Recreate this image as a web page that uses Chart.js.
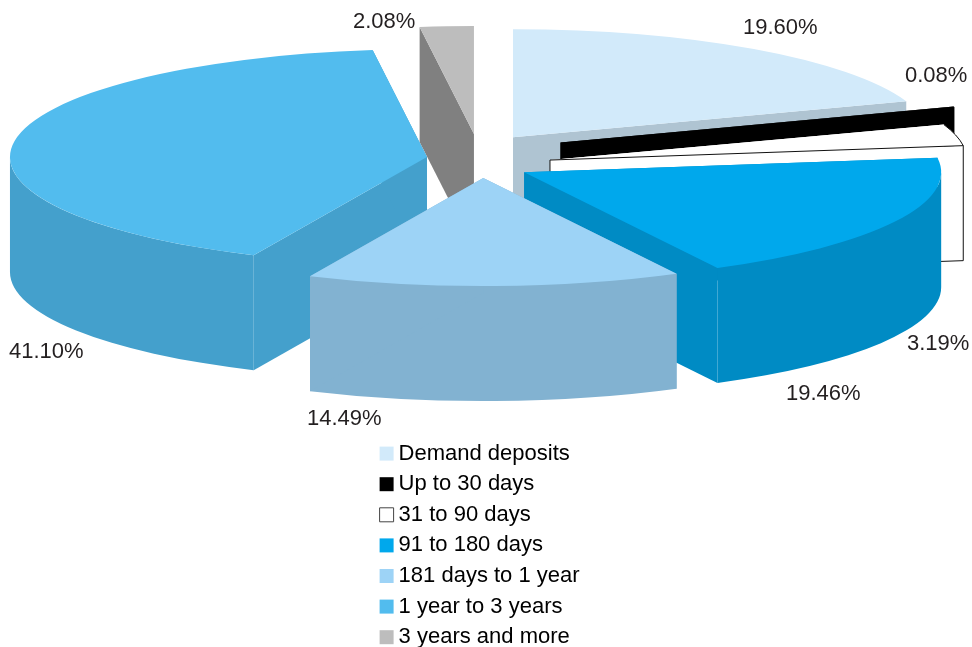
<!DOCTYPE html>
<html>
<head>
<meta charset="utf-8">
<style>html,body{margin:0;padding:0;background:#fff}canvas{display:block}</style>
<script src="https://cdn.jsdelivr.net/npm/chart.js@4"></script>
</head>
<body>
<canvas id="c" width="972" height="647"></canvas>
<script>
const categories = ['Demand deposits','Up to 30 days','31 to 90 days','91 to 180 days','181 days to 1 year','1 year to 3 years','3 years and more'];
const shares = [19.60,0.08,3.19,19.46,14.49,41.10,2.08];

const topColors  = ['#D2EAFA','#000000','#FFFFFF','#00A8EC','#9DD3F6','#52BCEE','#BDBDBD'];
const wallColors = ['#AFC4D2','#000000','#FFFFFF','#008BC4','#82B2D1','#44A0CC','#808080'];
const explodePx  = [60.6,87.4,74,52,85,51.6,85];
const driftX     = [0,0,0,0,3,0,1.5];
const driftY     = [-5,-5,9.5,11,1,4,1];
const drawOrder  = [6,0,1,2,5,3,4];
const labelX = [743,905,907,786,307,9,353];
const labelY = [27,75,343,393,418,351,21];

const RADIUS = 417, SQUASH = 0.259, DEPTH = 115;
const FONT = '22px "Liberation Sans", Arial, sans-serif';
const INK = '#231F20';

function facePoint(a, ax, ay, R, dz){ return [ax + R*Math.cos(a), ay + R*SQUASH*Math.sin(a) + dz]; }

const pie3d = {
  id:'pie3d',
  beforeDatasetsDraw(chart){
    const ctx = chart.ctx, arcs = chart.getDatasetMeta(0).data;
    drawOrder.forEach(i=>{
      const arc = arcs[i];
      const a0 = arc.startAngle, a1 = arc.endAngle, R = arc.outerRadius;
      const mid = (a0+a1)/2, o = arc.options.offset/4;
      const ax = arc.x + driftX[i] + Math.cos(mid)*o;
      const ay = arc.y + driftY[i] + Math.sin(mid)*o*SQUASH;
      const wall = wallColors[i];
      const quad = (a)=>{
        const p = facePoint(a,ax,ay,R,0);
        ctx.beginPath();
        ctx.moveTo(ax,ay); ctx.lineTo(p[0],p[1]);
        ctx.lineTo(p[0],p[1]+DEPTH); ctx.lineTo(ax,ay+DEPTH); ctx.closePath();
      };
      ctx.save();
      ctx.fillStyle = wall;
      quad(a0); ctx.fill();
      const lo = Math.max(a0,0), hi = Math.min(a1,Math.PI);
      if (hi>lo){
        ctx.beginPath();
        ctx.ellipse(ax,ay,R,R*SQUASH,0,lo,hi);
        ctx.ellipse(ax,ay+DEPTH,R,R*SQUASH,0,hi,lo,true);
        ctx.closePath(); ctx.fill();
      }
      quad(a1); ctx.fill();
      ctx.restore();

      // top face drawn by the library's own arc element, squashed;
      // its explode shift is applied here so the radius stays unchanged
      const resolved = arc.options;
      arc.options = Object.assign({}, resolved, {offset:0});
      ctx.save();
      ctx.translate(ax, ay);
      ctx.scale(1,SQUASH);
      ctx.translate(-arc.x,-arc.y);
      arc.draw(ctx);
      ctx.restore();
      arc.options = resolved;

      if (topColors[i]==='#FFFFFF'){
        ctx.save();
        ctx.strokeStyle='#111'; ctx.lineWidth=1;
        quad(a1); ctx.stroke();
        ctx.beginPath(); ctx.ellipse(ax,ay,R,R*SQUASH,0,a0,a1); ctx.stroke();
        ctx.restore();
      }
    });
    return false;
  },
  afterLayout(chart){
    const lg = chart.legend;
    lg.left = 377; lg.right = 620; lg.top = 434; lg.bottom = 720;
    lg.adjustHitBoxes();
  },
  afterDraw(chart){
    const ctx = chart.ctx;
    ctx.save();
    ctx.font = FONT; ctx.fillStyle = INK; ctx.textAlign='left'; ctx.textBaseline='middle';
    shares.forEach((v,i)=>ctx.fillText(v.toFixed(2)+'%',labelX[i],labelY[i]+1));
    ctx.restore();
  }
};

new Chart(document.getElementById('c'),{
  type:'pie',
  plugins:[pie3d],
  data:{labels:categories,datasets:[{
    data:shares,
    backgroundColor:topColors,
    borderWidth:0,
    radius:RADIUS,
    cutout:'0%',
    offset:explodePx.map(v=>v*4)
  }]},
  options:{
    responsive:false,
    animation:false,
    layout:{padding:{left:0,right:16,top:0,bottom:337}},
    plugins:{
      tooltip:{enabled:false},
      title:{display:false},
      legend:{
        position:'chartArea',
        align:'start',
        labels:{
          boxWidth:2,boxHeight:14,padding:8.6,
          usePointStyle:true,pointStyle:'rect',
          color:INK,
          font:{family:'"Liberation Sans", Arial, sans-serif',size:22},
          generateLabels(chart){
            return categories.map((t,i)=>({
              text:t,index:i,
              fillStyle:topColors[i],
              strokeStyle:topColors[i]==='#FFFFFF'?'#444':topColors[i],
              lineWidth:topColors[i]==='#FFFFFF'?1:0,
              pointStyle:'rect',
              hidden:false
            }));
          }
        }
      }
    }
  }
});
</script>
</body>
</html>
